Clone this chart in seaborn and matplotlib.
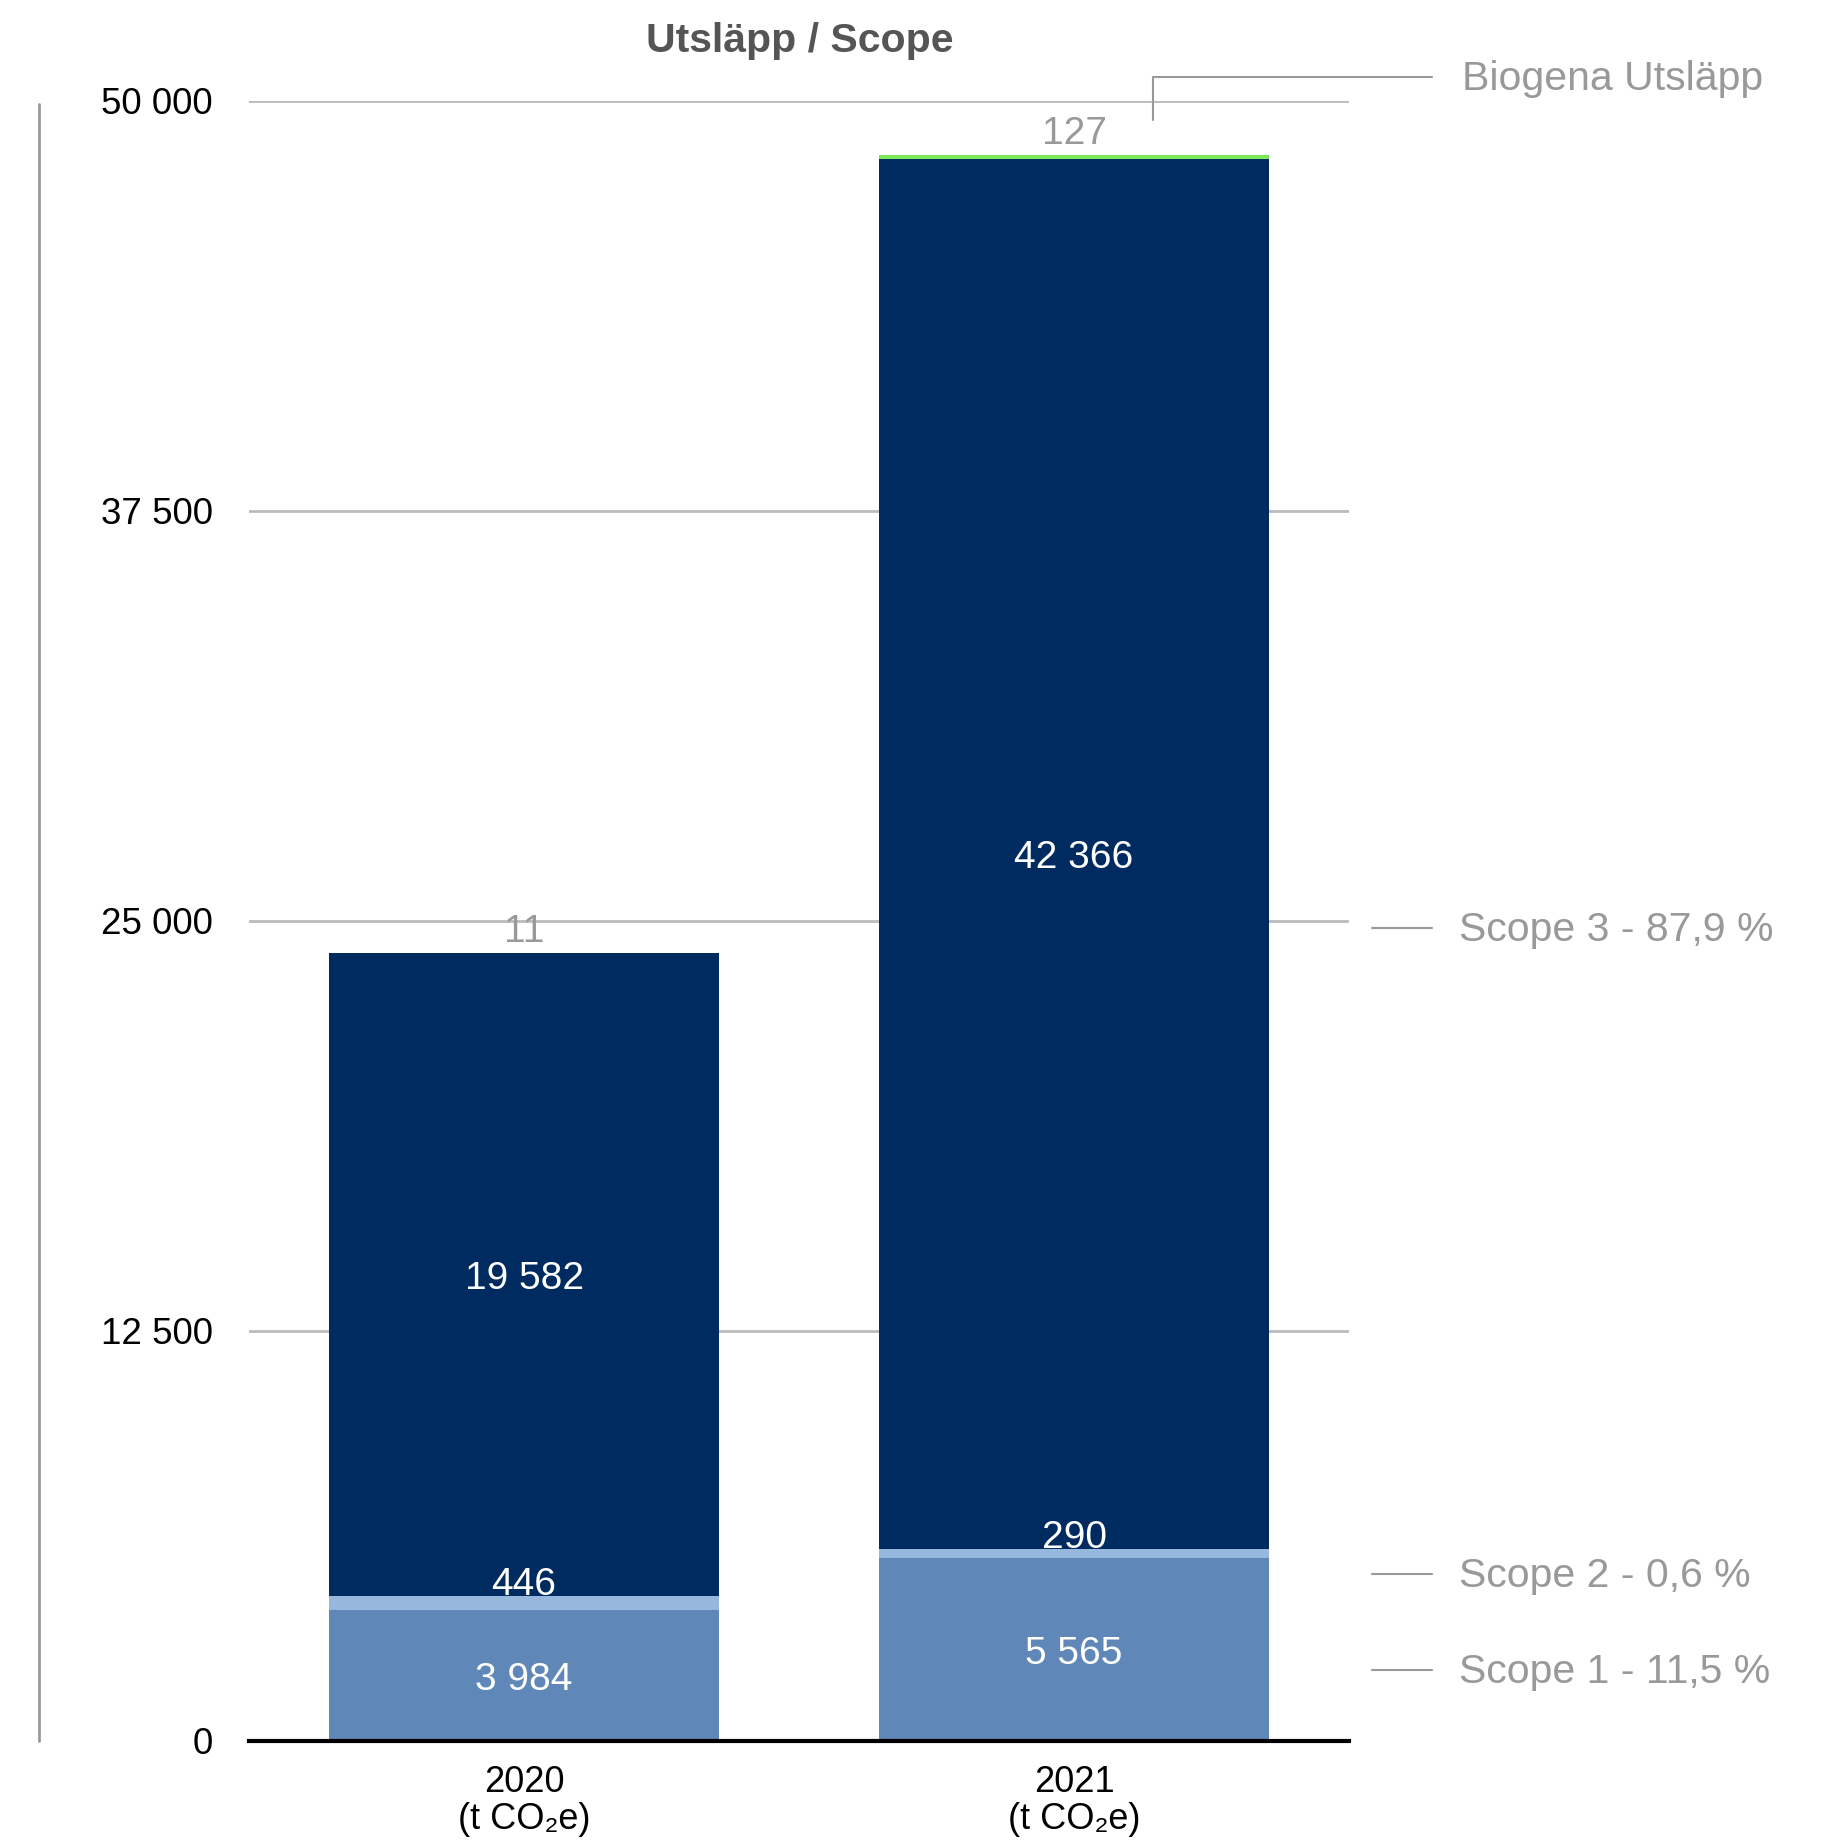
import matplotlib
matplotlib.use("Agg")
import matplotlib.pyplot as plt
import seaborn as sns
import pandas as pd

years = ["2020", "2021"]
scope1 = [3984, 5565]
scope2 = [446, 290]
scope3 = [19582, 42366]
biogenic = [11, 127]
tick_vals = [0, 12500, 25000, 37500, 50000]
tick_labels = ["0", "12 500", "25 000", "37 500", "50 000"]
side_labels = ["Scope 3 - 87,9 %", "Scope 2 - 0,6 %", "Scope 1 - 11,5 %"]
side_y = [24787, 5091, 2165]

c_s1 = "#5F87B8"
c_s2 = "#95B8DC"
c_s3 = "#002B60"
c_bio = "#7CE85A"
grey = "#999999"

sns.set_theme(style="white")
plt.rcParams["font.family"] = ["Liberation Sans", "DejaVu Sans"]

def fmt(v):
    return f"{v:,}".replace(",", " ")

df = pd.DataFrame({"year": years, "s1": scope1, "s2": scope2, "s3": scope3, "bio": biogenic})
df["c1"] = df["s1"]
df["c2"] = df["c1"] + df["s2"]
df["c3"] = df["c2"] + df["s3"]
df["c4"] = df["c3"] + df["bio"]

fig = plt.figure(figsize=(18.34, 18.44), dpi=100)
ax = fig.add_axes([0.1358, 0.0559, 0.5998, 0.8894])

w = 0.71
for col, color in [("c4", c_bio), ("c3", c_s3), ("c2", c_s2), ("c1", c_s1)]:
    sns.barplot(data=df, x="year", y=col, color=color, width=w, errorbar=None,
                linewidth=0, saturation=1, ax=ax, zorder=2)

ax.set_ylim(0, 50000)
ax.set_xlim(-0.5, 1.5)
ax.set_yticks(tick_vals)
ax.set_yticklabels(tick_labels, fontsize=26.5, color="black")
ax.set_xticks([0, 1])
ax.set_xticklabels([f"{y}\n(t CO\u2082e)" for y in years], fontsize=26, color="black",
                   linespacing=1.1)
ax.tick_params(axis="y", length=0, pad=26)
ax.tick_params(axis="x", length=0, pad=17)
ax.set_xlabel("")
ax.set_ylabel("")
ax.yaxis.grid(True, color="#BBBBBB", linewidth=2)
ax.set_axisbelow(True)
for s in ["left", "right", "top"]:
    ax.spines[s].set_visible(False)
ax.spines["bottom"].set_color("black")
ax.spines["bottom"].set_linewidth(3)
ax.spines["bottom"].set_zorder(3)

# value labels
fs = 28
for i in range(len(years)):
    ax.text(i, df["c1"][i] / 2 - 130, fmt(scope1[i]), ha="center", va="center",
            color="white", fontsize=fs, zorder=4)
    ax.text(i, df["c2"][i] + 330, fmt(scope2[i]), ha="center", va="center",
            color="white", fontsize=fs, zorder=4)
    ax.text(i, df["c2"][i] + scope3[i] / 2 - 130, fmt(scope3[i]), ha="center", va="center",
            color="white", fontsize=fs, zorder=4)
    ax.text(i, df["c4"][i] + 650, fmt(biogenic[i]), ha="center", va="center",
            color=grey, fontsize=fs, zorder=4)

# side legend
for lab, y in zip(side_labels, side_y):
    ax.plot([1.542, 1.651], [y, y], color=grey, lw=1.5, clip_on=False)
    ax.text(1.70, y - 60, lab, ha="left", va="center", color=grey, fontsize=29.5)

ax.plot([1.144, 1.144, 1.651], [49420, 50732, 50732], color=grey, lw=1.5, clip_on=False)
ax.text(1.705, 50732 - 60, "Biogena Utsläpp", ha="left", va="center", color=grey, fontsize=29.5)

# left vertical rule
ax.plot([-0.191, -0.191], [0, 49900], color="#999999", lw=2, clip_on=False,
        transform=ax.get_yaxis_transform())

fig.text(0.436, 0.978, "Utsläpp / Scope", ha="center", va="center",
         fontsize=29.5, fontweight="bold", color="#555555")

fig.savefig("out.png", dpi=100)
